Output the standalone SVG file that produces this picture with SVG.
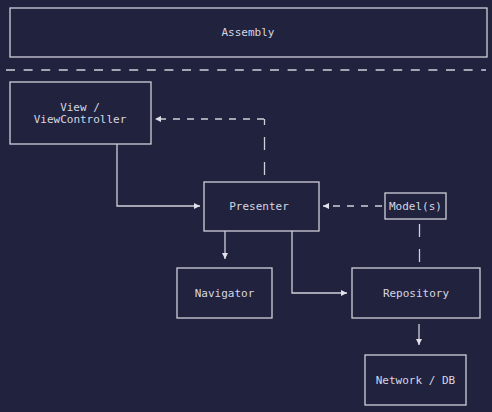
<svg xmlns="http://www.w3.org/2000/svg" width="492" height="412" viewBox="0 0 492 412">
<style>
.box{fill:none;stroke:#cfd0da;stroke-width:1.3}
.t{font-family:"DejaVu Sans Mono","Liberation Mono",monospace;font-size:11px;fill:#d6d7e0;text-anchor:middle;dominant-baseline:central}
.c{fill:none;stroke:#cfd0da;stroke-width:1.3}
.dh{stroke-dasharray:7 7}
.dv{stroke-dasharray:13 12}
</style>
<defs>
<marker id="ah" markerUnits="userSpaceOnUse" markerWidth="7" markerHeight="7" refX="6" refY="3" orient="auto">
<path d="M0,0 L6,3 L0,6 z" fill="#e2e3ea"/>
</marker>
</defs>
<rect width="492" height="412" fill="#21223e"/>
<g id="assembly">
<rect class="box" x="10" y="8" width="477" height="49"/>
<text class="t" x="248" y="32">Assembly</text>
</g>
<g id="separator">
<line x1="6" y1="70" x2="486" y2="70" stroke="#cfd0da" stroke-width="1.3" stroke-dasharray="9 8.6"/>
</g>
<g id="view">
<rect class="box" x="10" y="82" width="141" height="62"/>
<text class="t" x="80" y="107">View /</text>
<text class="t" x="80" y="119">ViewController</text>
</g>
<g id="presenter">
<rect class="box" x="204" y="182" width="115" height="49"/>
<text class="t" x="259" y="206">Presenter</text>
</g>
<g id="models">
<rect class="box" x="385" y="193" width="61" height="26"/>
<text class="t" x="415.5" y="206">Model(s)</text>
</g>
<g id="navigator">
<rect class="box" x="177" y="268" width="95" height="50"/>
<text class="t" x="224.5" y="293">Navigator</text>
</g>
<g id="repository">
<rect class="box" x="352" y="268" width="128" height="50"/>
<text class="t" x="416" y="293">Repository</text>
</g>
<g id="network">
<rect class="box" x="365" y="355" width="101" height="50"/>
<text class="t" x="415.5" y="380">Network / DB</text>
</g>
<g id="connectors">
<path class="c dv" d="M264.5 175 V119"/>
<path class="c dh" d="M264 119 H155" stroke-dashoffset="0" marker-end="url(#ah)"/>
<path class="c" d="M117 144 V206 H200" marker-end="url(#ah)"/>
<path class="c dh" d="M382 206 H323" marker-end="url(#ah)"/>
<path class="c dv" d="M419.5 224 V263" stroke-dasharray="14 10"/>
<path class="c" d="M225 231 V259" marker-end="url(#ah)"/>
<path class="c" d="M292 231 V293 H347" marker-end="url(#ah)"/>
<path class="c" d="M419 324 V345" marker-end="url(#ah)"/>
</g>
</svg>
